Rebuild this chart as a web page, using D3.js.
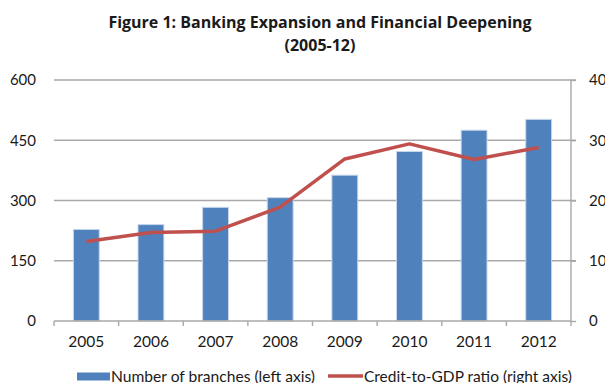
<!DOCTYPE html>
<html>
<head>
<meta charset="utf-8">
<script src="https://cdn.jsdelivr.net/npm/d3@7"></script>
<style>
  html, body { margin: 0; padding: 0; background: #fff; }
  svg { display: block; font-family: Lato, "Open Sans", sans-serif; }
</style>
</head>
<body>
<svg id="chart" width="605" height="383"></svg>
<script>
// Banking expansion and financial deepening, 2005-12
const years = ["2005", "2006", "2007", "2008", "2009", "2010", "2011", "2012"];
const branches = [228, 240, 283, 307, 363, 422, 475, 502];          // left axis
const creditToGDP = [13.2, 14.7, 14.9, 18.9, 26.9, 29.4, 26.8, 28.8]; // right axis, %
const leftTicks = [0, 150, 300, 450, 600];
const rightTicks = [0, 10, 20, 30, 40];
const titleLines = ["Figure 1: Banking Expansion and Financial Deepening", "(2005-12)"];
const legendLabels = ["Number of branches (left axis)", "Credit-to-GDP ratio (right axis)"];

const svg = d3.select("#chart");
const plot = { left: 54, right: 571, top: 80, bottom: 321 };

const x = d3.scaleBand().domain(years).range([plot.left, plot.right]).paddingInner(0.6).paddingOuter(0.3);
const xBand = d3.scaleBand().domain(years).range([plot.left, plot.right]);
const yL = d3.scaleLinear().domain([0, 600]).range([plot.bottom, plot.top]);
const yR = d3.scaleLinear().domain([0, 40]).range([plot.bottom, plot.top]);

const gridColor = "#a9a9a9";
const textColor = "#1a1a1a";

// Title
svg.append("g").selectAll("text").data(titleLines).join("text")
  .attr("x", 320).attr("y", (d, i) => 28 + i * 23)
  .attr("text-anchor", "middle")
  .attr("font-family", "'Open Sans', sans-serif")
  .attr("font-weight", "bold").attr("font-size", 16)
  .attr("fill", textColor)
  .text(d => d);

// Horizontal gridlines (left axis)
svg.append("g").selectAll("line").data(leftTicks.filter(t => t > 0)).join("line")
  .attr("x1", plot.left).attr("x2", plot.right + 5)
  .attr("y1", d => yL(d)).attr("y2", d => yL(d))
  .attr("stroke", gridColor).attr("stroke-width", 1.4);

// Left axis labels
const leftAxis = d3.axisLeft(yL).tickValues(leftTicks).tickSize(0).tickPadding(18);
const gL = svg.append("g").attr("transform", `translate(${plot.left},0)`).call(leftAxis);
gL.select(".domain").remove();
gL.selectAll("text").attr("font-size", 15).attr("fill", textColor).attr("font-family", "Lato, sans-serif");

// Right axis with outward ticks
const rightAxis = d3.axisRight(yR).tickValues(rightTicks).tickSize(5).tickPadding(13);
const gR = svg.append("g").attr("transform", `translate(${plot.right},0)`).call(rightAxis);
gR.select(".domain").attr("stroke", gridColor).attr("stroke-width", 1.4).attr("d", `M0,${plot.bottom}V${plot.top}`);
gR.selectAll(".tick line").attr("stroke", gridColor).attr("stroke-width", 1.4);
gR.selectAll("text").attr("font-size", 15).attr("fill", textColor).attr("font-family", "Lato, sans-serif");

// Bars
svg.append("g").selectAll("rect").data(years).join("rect")
  .attr("x", d => x(d))
  .attr("y", (d, i) => yL(branches[i]))
  .attr("width", x.bandwidth())
  .attr("height", (d, i) => yL(0) - yL(branches[i]))
  .attr("fill", "#4f81bd")
  .attr("stroke", "#c6d6ea").attr("stroke-width", 1);

// Category axis with ticks at band boundaries
const gX = svg.append("g").attr("transform", `translate(0,${plot.bottom})`);
gX.append("line").attr("x1", plot.left).attr("x2", plot.right)
  .attr("stroke", gridColor).attr("stroke-width", 1.4);
const bounds = years.map(d => xBand(d)).concat([xBand(years[years.length - 1]) + xBand.bandwidth()]);
gX.selectAll("line.tick").data(bounds).join("line").attr("class", "tick")
  .attr("x1", d => d).attr("x2", d => d).attr("y1", 0).attr("y2", 5)
  .attr("stroke", gridColor).attr("stroke-width", 1.4);
gX.selectAll("text").data(years).join("text")
  .attr("x", d => xBand(d) + xBand.bandwidth() / 2)
  .attr("y", 26)
  .attr("text-anchor", "middle").attr("font-size", 15.5).attr("fill", textColor)
  .text(d => d);

// Credit-to-GDP line
const line = d3.line()
  .x((d, i) => xBand(years[i]) + xBand.bandwidth() / 2)
  .y(d => yR(d));
svg.append("path").datum(creditToGDP)
  .attr("d", line)
  .attr("fill", "none").attr("stroke", "#c0504d").attr("stroke-width", 3.5)
  .attr("stroke-linejoin", "round");

// Legend
const lg = svg.append("g");
lg.append("rect").attr("x", 77).attr("y", 372.5).attr("width", 33).attr("height", 8).attr("fill", "#4f81bd");
lg.append("text").attr("x", 111).attr("y", 381.5).attr("font-size", 15).attr("fill", textColor)
  .attr("textLength", 204).attr("lengthAdjust", "spacingAndGlyphs").text(legendLabels[0]);
lg.append("line").attr("x1", 328).attr("x2", 363).attr("y1", 376).attr("y2", 376)
  .attr("stroke", "#c0504d").attr("stroke-width", 3.5);
lg.append("text").attr("x", 364).attr("y", 381.5).attr("font-size", 15).attr("fill", textColor)
  .attr("textLength", 208).attr("lengthAdjust", "spacingAndGlyphs").text(legendLabels[1]);
</script>
</body>
</html>
